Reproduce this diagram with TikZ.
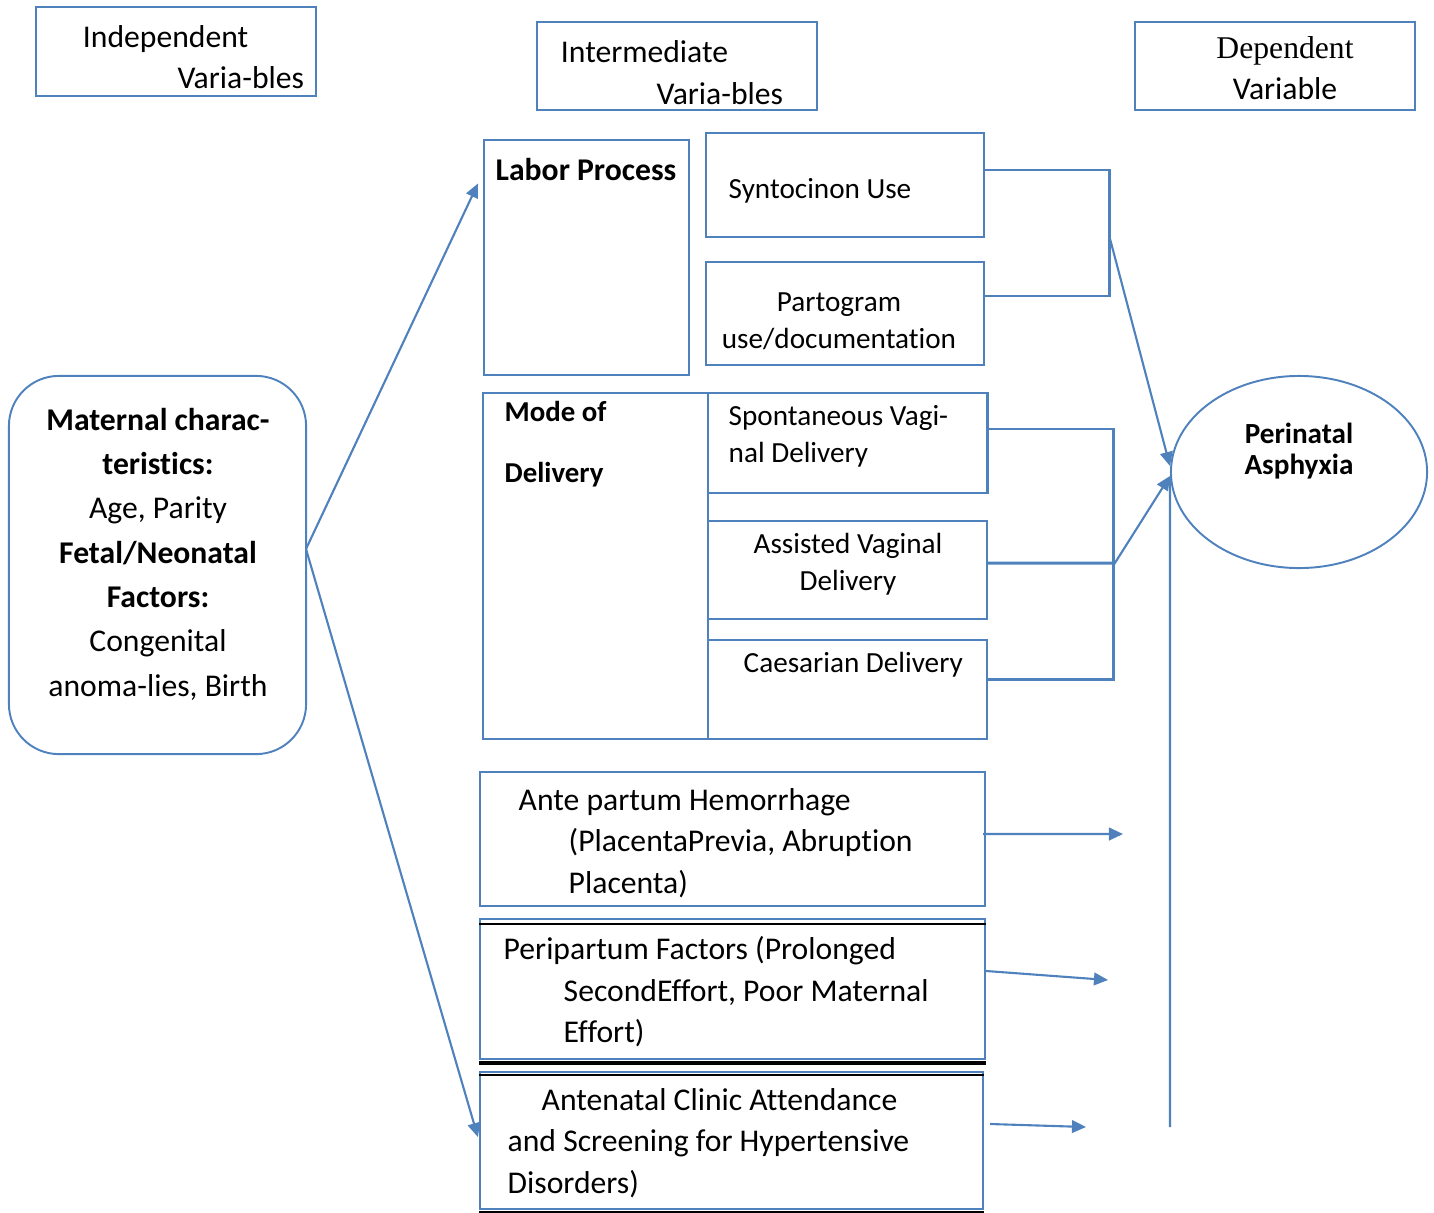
\documentclass[tikz,border=0pt]{standalone}
\usepackage{fontspec}
\setmainfont{Carlito}[Ligatures=NoCommon]
\newfontfamily\timesfont{Liberation Serif}
\usetikzlibrary{arrows.meta, positioning, shapes.geometric}

\definecolor{lineblue}{HTML}{4F81BD}

\begin{document}
\begin{tikzpicture}[
    x=0.01cm, y=-0.01cm,
    box/.style={draw=lineblue, line width=0.55pt, inner sep=0pt},
    tnine/.style={inner sep=0pt, font=\fontsize{9}{11.8}\selectfont},
    teight/.style={inner sep=0pt, font=\fontsize{8.3}{10.5}\selectfont},
    bracket/.style={draw=lineblue, line width=0.85pt},
    arr/.style={draw=lineblue, line width=0.6pt, -{Triangle[length=4pt, width=3.6pt]}},
]

\useasboundingbox (0,0) rectangle (1434,1212);

% ---------------------------------------------------------------- headings
\node[box, minimum width=2.80cm, minimum height=0.89cm] (indep) at (176,51.5) {};
\node[tnine, text width=2.21cm, align=left] (indepT) at (193.5,57)
    {Independent\\\hfill Varia-bles};

\node[box, minimum width=2.80cm, minimum height=0.88cm] (inter) at (677,66) {};
\node[tnine, text width=2.22cm, align=left] (interT) at (672,72.5)
    {Intermediate\\\hfill Varia-bles};

\node[box, minimum width=2.80cm, minimum height=0.88cm] (dep) at (1275,66) {};
\node[tnine, align=center] (depT) at (1285,68)
    {{\timesfont Dependent}\\Variable};

% ---------------------------------------------------------------- independent
\node[box, rounded corners=0.5cm, minimum width=2.97cm, minimum height=3.78cm]
    (mat) at (157.5,565) {};
\node[inner sep=0pt, font=\fontsize{9}{12.6}\selectfont, align=center] (matT) at (158,554)
    {\textbf{Maternal charac-}\\\textbf{teristics:}\\Age, Parity\\
     \textbf{Fetal/Neonatal}\\\textbf{Factors:}\\Congenital\\anoma-lies,\ Birth};
\coordinate (matR) at (306,549);

% ---------------------------------------------------------------- labor process
\node[box, minimum width=2.05cm, minimum height=2.35cm] (labor) at (586.5,257.5) {};
\node[tnine, font=\bfseries\fontsize{9}{11}\selectfont, anchor=west] (laborT) at (495,170)
    {Labor Process};

\node[box, minimum width=2.78cm, minimum height=1.04cm] (synto) at (845,185) {};
\node[teight, anchor=west] (syntoT) at (728,191) {Syntocinon Use};

\node[box, minimum width=2.78cm, minimum height=1.03cm] (parto) at (845,313.5) {};
\node[teight, align=center] (partoT) at (839,321.5) {Partogram\\use/documentation};

% ---------------------------------------------------------------- mode of delivery
\node[box, minimum width=2.25cm, minimum height=3.46cm] (mode) at (595.5,566) {};
\node[inner sep=0pt, font=\bfseries\fontsize{8.2}{17.3}\selectfont, anchor=west, align=left]
    (modeT) at (504,444.5) {Mode of\\Delivery};

\node[box, line width=0.8pt, minimum width=2.79cm, minimum height=1.00cm] (svd) at (847.5,443) {};
\node[teight, anchor=west, align=left] (svdT) at (728,436.5)
    {Spontaneous Vagi-\\nal Delivery};

\node[box, minimum width=2.79cm, minimum height=0.98cm] (avd) at (847.5,570) {};
\node[teight, align=center] (avdT) at (848,564.5) {Assisted Vaginal\\Delivery};

\node[box, minimum width=2.79cm, minimum height=0.99cm] (cs) at (847.5,689.5) {};
\node[teight, anchor=west] (csT) at (743,665) {Caesarian Delivery};

% ---------------------------------------------------------------- other factors
\node[box, minimum width=5.05cm, minimum height=1.34cm] (ante) at (732.5,839) {};
\node[tnine, anchor=west, align=left] (anteT) at (518,843)
    {Ante partum Hemorrhage\\\hspace*{0.5cm}(PlacentaPrevia, Abruption\\
     \hspace*{0.5cm}Placenta)};

\node[box, minimum width=5.05cm, minimum height=1.40cm] (peri) at (732.5,989) {};
\draw[black, line width=0.55pt] ([yshift=-0.06cm]peri.north west) -- ([yshift=-0.06cm]peri.north east);
\draw[black, line width=0.9pt] ([yshift=-0.03cm]peri.south west) -- ([yshift=-0.03cm]peri.south east);
\node[tnine, anchor=west, align=left] (periT) at (503,992)
    {Peripartum Factors (Prolonged\\\hspace*{0.6cm}SecondEffort, Poor Maternal\\
     \hspace*{0.6cm}Effort)};

\node[box, minimum width=5.03cm, minimum height=1.37cm] (anc) at (731.5,1140.5) {};
\draw[black, line width=0.55pt] ([yshift=-0.04cm]anc.north west) -- ([yshift=-0.04cm]anc.north east);
\draw[black, line width=0.55pt] ([yshift=-0.02cm]anc.south west) -- ([yshift=-0.02cm]anc.south east);
\node[tnine, anchor=west, align=left] (ancT) at (507,1143)
    {\hspace*{0.34cm}Antenatal Clinic Attendance\\and Screening for Hypertensive\\Disorders)};

% ---------------------------------------------------------------- outcome
\node[draw=lineblue, line width=0.55pt, ellipse, minimum width=2.56cm, minimum height=1.92cm,
    inner sep=0pt] (pa) at (1299,472) {};
\node[inner sep=0pt, font=\bfseries\fontsize{8.3}{8.6}\selectfont, align=center] (paT)
    at (1299,451) {Perinatal\\Asphyxia};

% ---------------------------------------------------------------- connectors
\draw[arr] (matR) -- ([xshift=-0.05cm, yshift=0.74cm]labor.west);
\draw[arr] (matR) -- ([xshift=-0.01cm, yshift=0.035cm]anc.west);

\coordinate (jLab) at (1109,235);
\draw[bracket] ([yshift=0.15cm]synto.east) -| (jLab) |- ([yshift=0.175cm]parto.east);
\draw[arr] (jLab) -- ([yshift=0.06cm]pa.west);

\coordinate (jMode) at (1113,563);
\draw[bracket] ([yshift=0.14cm]svd.east) -| (jMode) |- ([yshift=0.10cm]cs.east);
\draw[bracket] ([yshift=0.07cm]avd.east) -- (jMode);
\draw[arr] ([yshift=-0.03cm]jMode) -- ([yshift=-0.04cm]pa.west);

\coordinate (vBot) at (1170,1127);
\draw[draw=lineblue, line width=0.6pt] (vBot) -- ([yshift=-0.06cm]pa.west);

\coordinate (eAnte) at (1123,834);
\coordinate (ePeri) at (1108,980);
\coordinate (eAnc) at (1086,1127);
\draw[arr] ([xshift=-0.03cm, yshift=0.05cm]ante.east) -- (eAnte);
\draw[arr] ([yshift=0.18cm]peri.east) -- (ePeri);
\draw[arr] ([xshift=0.06cm, yshift=0.165cm]anc.east) -- (eAnc);

\end{tikzpicture}
\end{document}
